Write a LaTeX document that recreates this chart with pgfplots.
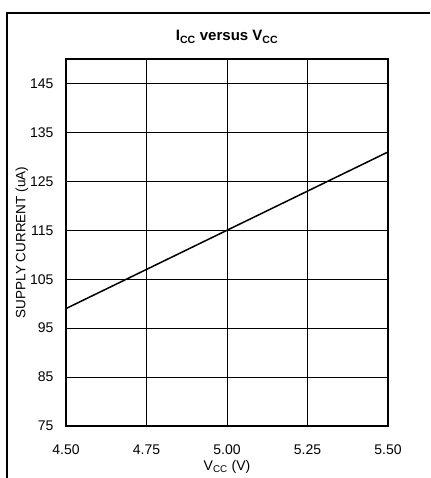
\documentclass[border=0pt]{standalone}
\usepackage{pgfplots}
\pgfplotsset{compat=1.18}
\usepackage{fontspec}
\setmainfont{Liberation Sans}
\begin{document}
\begin{tikzpicture}[x=1pt,y=1pt]
\useasboundingbox (0,0) rectangle (430,478);
\draw[line width=1.2pt] (7,0) -- (7,465) -- (430,465);
\begin{axis}[
  at={(66pt,52pt)}, anchor=south west,
  scale only axis, width=322pt, height=367pt,
  xmin=4.5, xmax=5.5, ymin=75, ymax=150,
  xtick={4.5,4.75,5,5.25,5.5},
  xticklabels={4.50,4.75,5.00,5.25,5.50},
  ytick={75,85,95,105,115,125,135,145},
  grid=major,
  major grid style={black, line width=0.6pt},
  axis line style={line width=1.4pt},
  tick style={draw=none},
  tick label style={font=\fontsize{14}{16}\selectfont},
  /pgf/number format/assume math mode=true,
  xticklabel style={anchor=center, yshift=-24pt},
  yticklabel style={anchor=east, xshift=-9pt},
  xlabel={V\textsubscript{CC} (V)},
  xlabel style={font=\fontsize{14}{16}\selectfont, at={(axis description cs:0.5,0)}, anchor=center, yshift=-41pt},
  ylabel={SUPPLY CURRENT (uA)},
  ylabel style={font=\fontsize{13.5}{16}\selectfont, at={(axis description cs:0,0.5)}, anchor=center, yshift=44pt},
  title={\textbf{I\textsubscript{CC} versus V\textsubscript{CC}}},
  title style={font=\fontsize{15}{17}\selectfont, yshift=6pt},
]
\addplot[black, line width=1.5pt] coordinates {(4.5,99) (5.5,131)};
\end{axis}
\end{tikzpicture}
\end{document}
